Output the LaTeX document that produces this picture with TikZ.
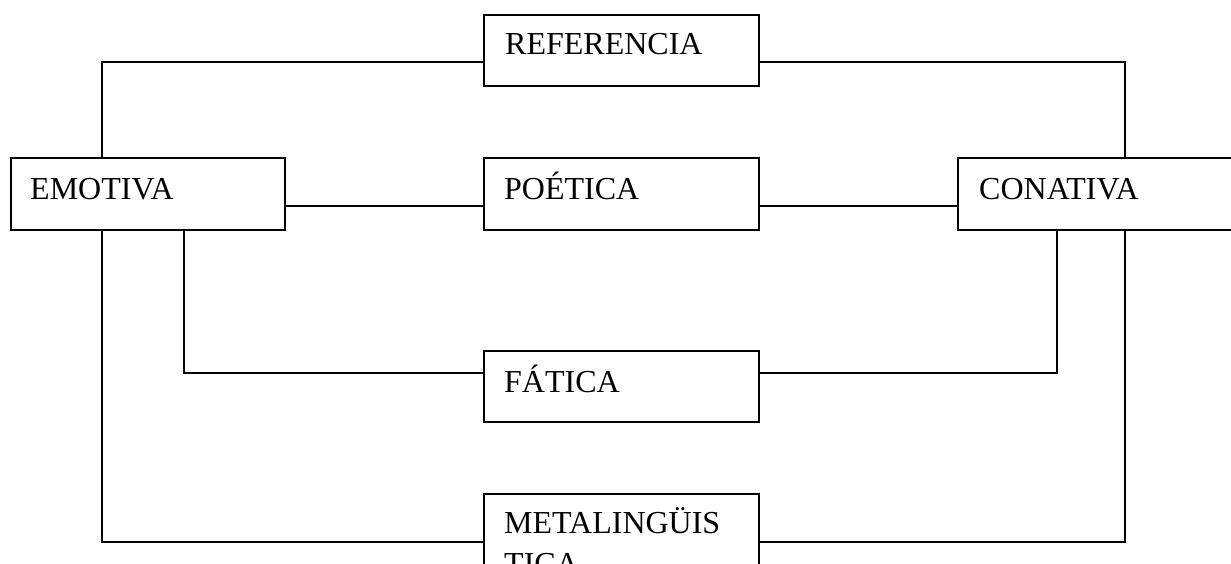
\documentclass[tikz,border=0pt]{standalone}
\usepackage{fontspec}
\setmainfont{Liberation Serif}
\begin{document}
\begin{tikzpicture}[x=1pt,y=-1pt,
  box/.style={draw, line width=2pt, rectangle, inner sep=0pt, anchor=north west, fill=white},
  link/.style={line width=1.8pt},
  lbl/.style={font=\fontsize{32}{41}\selectfont, inner sep=0pt, anchor=base west, align=left}]
\useasboundingbox (0,0) rectangle (1231,563);
\clip (0,0) rectangle (1231,563);

% function boxes
\node[box, minimum width=275pt, minimum height=71pt] (ref) at (483,14) {};
\node[box, minimum width=274pt, minimum height=72pt] (emo) at (10,157) {};
\node[box, minimum width=275pt, minimum height=72pt] (poe) at (483,157) {};
\node[box, minimum width=290pt, minimum height=72pt] (con) at (957,157) {};
\node[box, minimum width=275pt, minimum height=71pt] (fat) at (483,350) {};
\node[box, minimum width=275pt, minimum height=110pt] (met) at (483,493) {};

% labels (the last line of a wrapped label sits on the given baseline)
\node[lbl] (refT) at (505,54) {REFERENCIA};
\node[lbl] (emoT) at (30,199) {EMOTIVA};
\node[lbl] (poeT) at (504,199) {POÉTICA};
\node[lbl] (conT) at (979,199) {CONATIVA};
\node[lbl] (fatT) at (504,392) {FÁTICA};
\node[lbl] (metT) at (504,574) {METALINGÜIS\\TICA};

% routing levels
\coordinate (yRef) at (0,62);
\coordinate (yMid) at (0,206);
\coordinate (yFat) at (0,373);
\coordinate (yMet) at (0,542);
\coordinate (kL) at (102,0);
\coordinate (kR) at (1125,0);
\coordinate (fL) at (184,0);
\coordinate (fR) at (1057,0);

% connectors
\draw[link] (ref.west |- yRef) -| (emo.north -| kL);
\draw[link] (ref.east |- yRef) -| (con.north -| kR);
\draw[link] (emo.east |- yMid) -- (poe.west |- yMid);
\draw[link] (poe.east |- yMid) -- (con.west |- yMid);
\draw[link] (emo.south -| fL) |- (fat.west |- yFat);
\draw[link] (fat.east |- yFat) -| (con.south -| fR);
\draw[link] (emo.south -| kL) |- (met.west |- yMet);
\draw[link] (met.east |- yMet) -| (con.south -| kR);
\end{tikzpicture}
\end{document}
